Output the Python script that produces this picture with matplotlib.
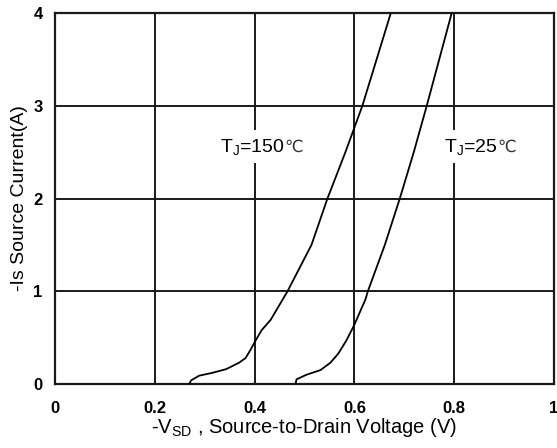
import matplotlib
matplotlib.use("Agg")
import matplotlib.pyplot as plt
from matplotlib.offsetbox import TextArea, HPacker, AnnotationBbox

plt.rcParams['font.family'] = ['Liberation Sans', 'DejaVu Sans']
plt.rcParams['mathtext.fontset'] = 'custom'
plt.rcParams['mathtext.rm'] = 'Liberation Sans'
plt.rcParams['mathtext.it'] = 'Liberation Sans'

# Data
v_150 = [0.269, 0.273, 0.289, 0.315, 0.343, 0.369, 0.382, 0.392, 0.400, 0.414,
         0.432, 0.466, 0.514, 0.546, 0.582, 0.616, 0.673]
i_150 = [0.0, 0.04, 0.09, 0.12, 0.16, 0.23, 0.28, 0.37, 0.45, 0.58,
         0.69, 1.0, 1.5, 2.0, 2.5, 3.0, 4.0]
v_25 = [0.482, 0.484, 0.504, 0.532, 0.552, 0.568, 0.584, 0.600, 0.622, 0.627,
        0.661, 0.691, 0.719, 0.745, 0.795]
i_25 = [0.0, 0.05, 0.10, 0.15, 0.23, 0.33, 0.47, 0.64, 0.91, 1.0,
        1.5, 2.0, 2.5, 3.0, 4.0]
x_ticks = [0, 0.2, 0.4, 0.6, 0.8, 1]
x_tick_labels = ['0', '0.2', '0.4', '0.6', '0.8', '1']
y_ticks = [0, 1, 2, 3, 4]
y_tick_labels = ['0', '1', '2', '3', '4']
labels = ['T$_{\\mathregular{J}}$=150', 'T$_{\\mathregular{J}}$=25']
label_unit = '\u2103'
label_x = [0.414, 0.851]
label_y = [2.56, 2.56]

fig = plt.figure(figsize=(5.57, 4.48), dpi=100)
ax = fig.add_axes([55/557, 1-384/448, 499/557, (384-13)/448])
ax.set_xlim(0, 1)
ax.set_ylim(0, 4)
ax.set_xticks(x_ticks)
ax.set_xticklabels(x_tick_labels)
ax.set_yticks(y_ticks)
ax.set_yticklabels(y_tick_labels)
ax.grid(True, color='#1a1a1a', lw=1.4)
ax.set_axisbelow(True)
for s in ax.spines.values():
    s.set_linewidth(1.6)
    s.set_color('#1a1a1a')
ax.tick_params(length=0, labelsize=12)
ax.tick_params(axis='x', pad=12)
ax.tick_params(axis='y', pad=9)
for lab in ax.get_xticklabels() + ax.get_yticklabels():
    lab.set_fontweight('bold')

ax.plot(v_150, i_150, color='black', lw=1.3, zorder=3)
ax.plot(v_25, i_25, color='black', lw=1.3, zorder=3)

for txt, lx, ly in zip(labels, label_x, label_y):
    t1 = TextArea(txt, textprops=dict(fontsize=14, color='black'))
    t2 = TextArea(label_unit, textprops=dict(fontsize=12, color='#333333',
                                            family=['DejaVu Sans']))
    pack = HPacker(children=[t1, t2], align='baseline', pad=0, sep=0)
    ab = AnnotationBbox(pack, (lx, ly), xycoords='data', frameon=True, pad=0.45,
                        bboxprops=dict(facecolor='white', edgecolor='none'),
                        zorder=4)
    ax.add_artist(ab)

ax.set_xlabel('-V$_{\\mathregular{SD}}$ , Source-to-Drain Voltage (V)', fontsize=14.5, labelpad=0)
ax.set_ylabel('-Is Source Current(A)', fontsize=14, labelpad=4)

fig.savefig('out.png', dpi=100)
